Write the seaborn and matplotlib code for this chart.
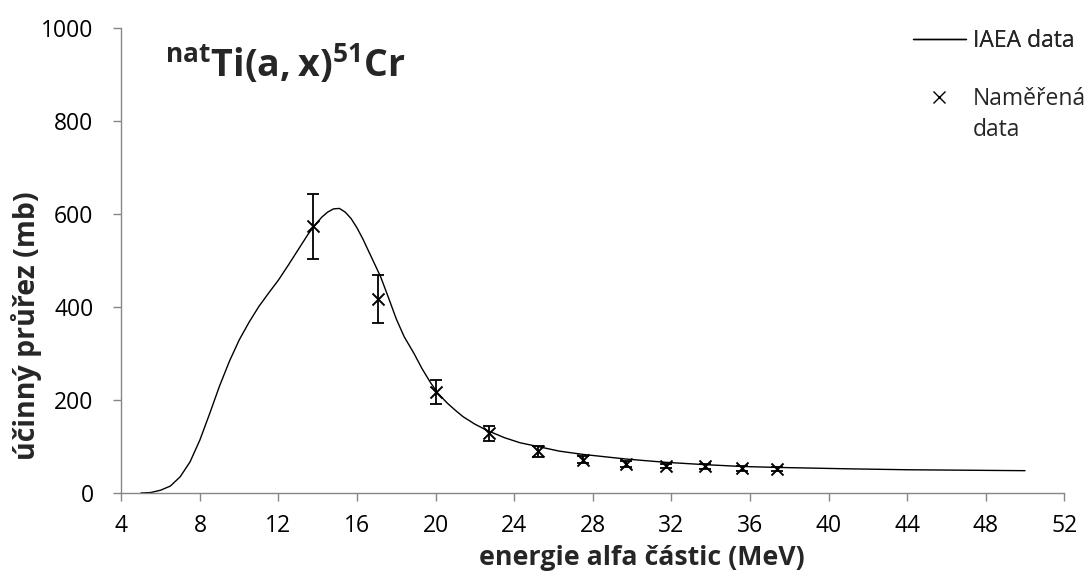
import matplotlib
matplotlib.use("Agg")
import matplotlib.pyplot as plt
import seaborn as sns
import pandas as pd
from matplotlib.lines import Line2D

# IAEA evaluated curve (energy MeV, cross section mb)
iaea_energy = [5.0, 5.5, 6.0, 6.5, 7.0, 7.5, 8.0, 8.5, 9.0, 9.5, 10.0, 10.5, 11.0,
               11.5, 12.0, 12.5, 13.0, 13.5, 13.8, 14.2, 14.5, 14.8, 15.1, 15.4, 15.7,
               16.0, 16.3, 16.7, 17.2, 17.6, 18.0, 18.4, 18.9, 19.3, 19.7, 20.1, 20.6,
               21.0, 21.4, 22.0, 22.6, 23.5, 24.3, 25.2, 26.3, 27.5, 28.6, 29.7, 31.7,
               33.7, 35.6, 37.4, 41.0, 44.0, 47.0, 50.0]
iaea_xs = [0, 1, 6, 15, 35, 67, 114, 171, 230, 283, 329, 367, 401,
           430, 458, 490, 523, 556, 573, 593, 604, 611, 612, 604, 590,
           570, 546, 510, 465, 420, 374, 336, 300, 268, 240, 215, 193,
           178, 164, 148, 135, 119, 108, 100, 90, 83, 78, 73, 66,
           61, 57, 55, 52, 50, 49, 48]

# Measured data
meas_energy = [13.77, 17.08, 20.02, 22.71, 25.2, 27.49, 29.68, 31.71, 33.7, 35.58, 37.4]
meas_xs = [574, 417, 218, 128, 90, 72, 62, 58, 57, 53, 51]
meas_err = [70, 51, 26, 16, 12, 7, 6, 5, 5, 5, 4]

x_ticks = list(range(4, 53, 4))
y_ticks = [0, 200, 400, 600, 800, 1000]

sns.set_style("white")
plt.rcParams["font.family"] = ["Open Sans", "DejaVu Sans"]
plt.rcParams["mathtext.fontset"] = "custom"
plt.rcParams["mathtext.rm"] = "Open Sans"
plt.rcParams["mathtext.bf"] = "Open Sans:bold"

fig = plt.figure(figsize=(10.87, 5.81), dpi=100)
ax = fig.add_axes([121.3 / 1087, 1 - 493 / 581, (1064.3 - 121.3) / 1087, (493 - 28) / 581])

curve = pd.DataFrame({"E": iaea_energy, "xs": iaea_xs})
meas = pd.DataFrame({"E": meas_energy, "xs": meas_xs, "err": meas_err})

sns.lineplot(data=curve, x="E", y="xs", ax=ax, color="black", linewidth=1.0,
             estimator=None, sort=False, legend=False)
ax.errorbar(meas["E"], meas["xs"], yerr=meas["err"], fmt="none", ecolor="black",
            elinewidth=1.3, capsize=4.5, capthick=1.3)
sns.scatterplot(data=meas, x="E", y="xs", ax=ax, marker="x", color="black",
                s=75, linewidth=1.4, legend=False, zorder=5)

ax.set_xlim(4, 52)
ax.set_ylim(0, 1000)
ax.set_xticks(x_ticks)
ax.set_yticks(y_ticks)
ax.tick_params(axis="both", direction="out", length=6, width=1, color="#868686",
               labelsize=16.5, labelcolor="black", bottom=True, left=True)
ax.tick_params(axis="x", pad=9)
ax.tick_params(axis="y", pad=14)
for side in ["top", "right"]:
    ax.spines[side].set_visible(False)
for side in ["left", "bottom"]:
    ax.spines[side].set_color("#868686")
    ax.spines[side].set_linewidth(1)

ax.set_xlabel("energie alfa částic (MeV)", fontsize=19.3, fontweight="bold")
ax.xaxis.set_label_coords((641.5 - 121.3) / 943, -(545 - 493) / 465)
ax.set_ylabel("účinný průřez (mb)", fontsize=20.5, fontweight="bold")
ax.yaxis.set_label_coords(-(121.3 - 42) / 943, (493 - 326) / 465)

fig.text(165 / 1087, 1 - 64 / 581, r"${}^{\mathbf{nat}}\mathbf{Ti(a,x)}^{\mathbf{51}}\mathbf{Cr}$",
         fontsize=27, va="center", ha="left")

h1 = [Line2D([], [], color="black", linewidth=1.0)]
leg1 = fig.legend(h1, ["IAEA data"], loc="upper left",
                  bbox_to_anchor=(913 / 1087, 1 - 29 / 581), frameon=False,
                  fontsize=16.5, handlelength=2.3, handletextpad=0.3,
                  borderpad=0, borderaxespad=0)
h2 = [Line2D([], [], color="black", marker="x", linestyle="none", markersize=8,
             markeredgewidth=1.0),
      Line2D([], [], linestyle="none")]
leg2 = fig.legend(h2, ["Naměřená", "data"], loc="upper left",
                  bbox_to_anchor=(913 / 1087, 1 - 87 / 581), frameon=False,
                  fontsize=16.5, handlelength=2.3, handletextpad=0.3,
                  borderpad=0, borderaxespad=0, labelspacing=0.3)
fig.add_artist(leg1)

fig.savefig("out.png", dpi=100)
